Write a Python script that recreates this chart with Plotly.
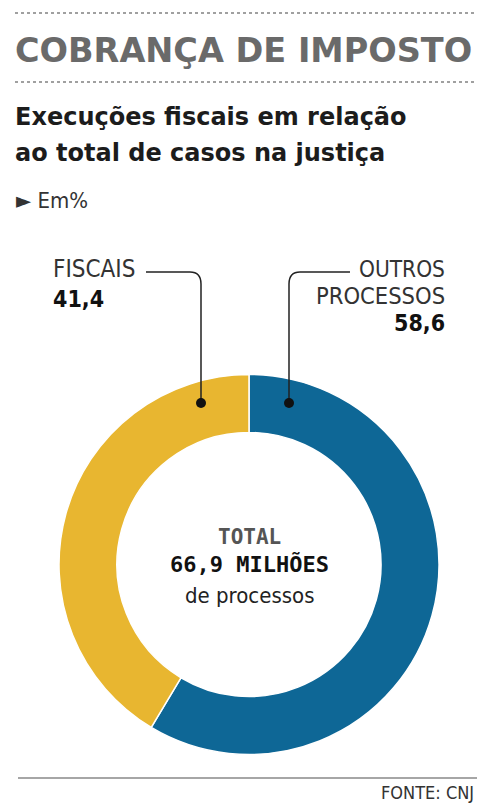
import plotly.graph_objects as go

W, H = 477, 805

labels = ["OUTROS PROCESSOS", "FISCAIS"]
values = [58.6, 41.4]
colors = ["#0e6796", "#e8b630"]
value_texts = ["58,6", "41,4"]

title = "COBRANÇA DE IMPOSTO"
subtitle_lines = ["Execuções fiscais em relação", "ao total de casos na justiça"]
unit_note = "► Em%"
center_lines = ["TOTAL", "66,9 MILHÕES", "de processos"]
source = "FONTE: CNJ"


def px(x):
    return x / W


def py(y):
    return 1 - y / H


cx, cy, r = 249, 564.5, 190

fig = go.Figure(go.Pie(
    labels=labels,
    values=values,
    marker=dict(colors=colors, line=dict(color="white", width=1.5)),
    hole=0.695,
    sort=False,
    direction="clockwise",
    rotation=0,
    textinfo="none",
    hoverinfo="label+value",
    showlegend=False,
    domain=dict(x=[px(cx - r), px(cx + r)], y=[py(cy + r), py(cy - r)]),
))

cond = "DejaVu Sans Condensed, Liberation Sans Narrow, sans-serif"
mono = "DejaVu Sans Mono, Liberation Mono, monospace"
wide = "DejaVu Sans, sans-serif"
ann = []


def add(text, x, y, size, color="#222", family=cond, xanchor="left", weight="normal"):
    ann.append(dict(text=text, x=px(x), y=py(y), xref="paper", yref="paper",
                    xanchor=xanchor, yanchor="middle", showarrow=False,
                    font=dict(size=size, color=color, family=family, weight=weight)))


add(title, 13, 50, 33.5, color="#6a6a6a", family=wide, weight="bold")
add(subtitle_lines[0], 13, 117, 24, color="#1c1c1c", family=wide, weight="bold")
add(subtitle_lines[1], 13, 153, 24, color="#1c1c1c", family=wide, weight="bold")
add(unit_note, 14, 200, 22, color="#333")

# slice labels
add(labels[1], 51, 269, 24, color="#333")
add(value_texts[1], 51, 299, 23, color="#111", family=cond, weight="bold")
add("OUTROS", 447, 269, 22.5, color="#333", xanchor="right")
add("PROCESSOS", 447, 296, 23.5, color="#333", xanchor="right")
add(value_texts[0], 447, 323, 23, color="#111", family=cond, weight="bold", xanchor="right")

# center
add(center_lines[0], cx, 537, 21, color="#555", family=mono, weight="bold", xanchor="center")
add(center_lines[1], cx, 564, 22, color="#111", family=mono, weight="bold", xanchor="center")
add(center_lines[2], cx, 595, 22, color="#222", xanchor="center")

add(source, 476, 792, 18, color="#333", xanchor="right")

shapes = []


def path_px(pts):
    s = ""
    for cmd, c in pts:
        s += cmd
        vals = []
        for i in range(0, len(c), 2):
            vals.append(f"{px(c[i]):.5f},{py(c[i+1]):.5f}")
        s += " ".join(vals) + " "
    return s.strip()


line_style = dict(color="#222", width=1.5)
shapes.append(dict(type="path", xref="paper", yref="paper",
                   path=path_px([("M", [146, 272]), ("L", [190, 272]), ("Q", [201, 272, 201, 284]), ("L", [201, 403])]),
                   line=line_style))
shapes.append(dict(type="path", xref="paper", yref="paper",
                   path=path_px([("M", [350, 272]), ("L", [300, 272]), ("Q", [289, 272, 289, 284]), ("L", [289, 403])]),
                   line=line_style))
for dx in (201, 289):
    shapes.append(dict(type="circle", xref="paper", yref="paper",
                       x0=px(dx - 5), x1=px(dx + 5), y0=py(403 + 5), y1=py(403 - 5),
                       fillcolor="#111", line=dict(width=0)))

for yy in (13, 82):
    shapes.append(dict(type="line", xref="paper", yref="paper",
                       x0=px(15), x1=px(477), y0=py(yy), y1=py(yy),
                       line=dict(color="#a0a0a0", width=2, dash="3px,3px")))
shapes.append(dict(type="line", xref="paper", yref="paper",
                   x0=px(18), x1=px(477), y0=py(778), y1=py(778),
                   line=dict(color="#888", width=1.5)))

fig.update_layout(
    width=W, height=H,
    margin=dict(l=0, r=0, t=0, b=0),
    paper_bgcolor="white", plot_bgcolor="white",
    annotations=ann, shapes=shapes,
)

fig.write_html("out.html")
